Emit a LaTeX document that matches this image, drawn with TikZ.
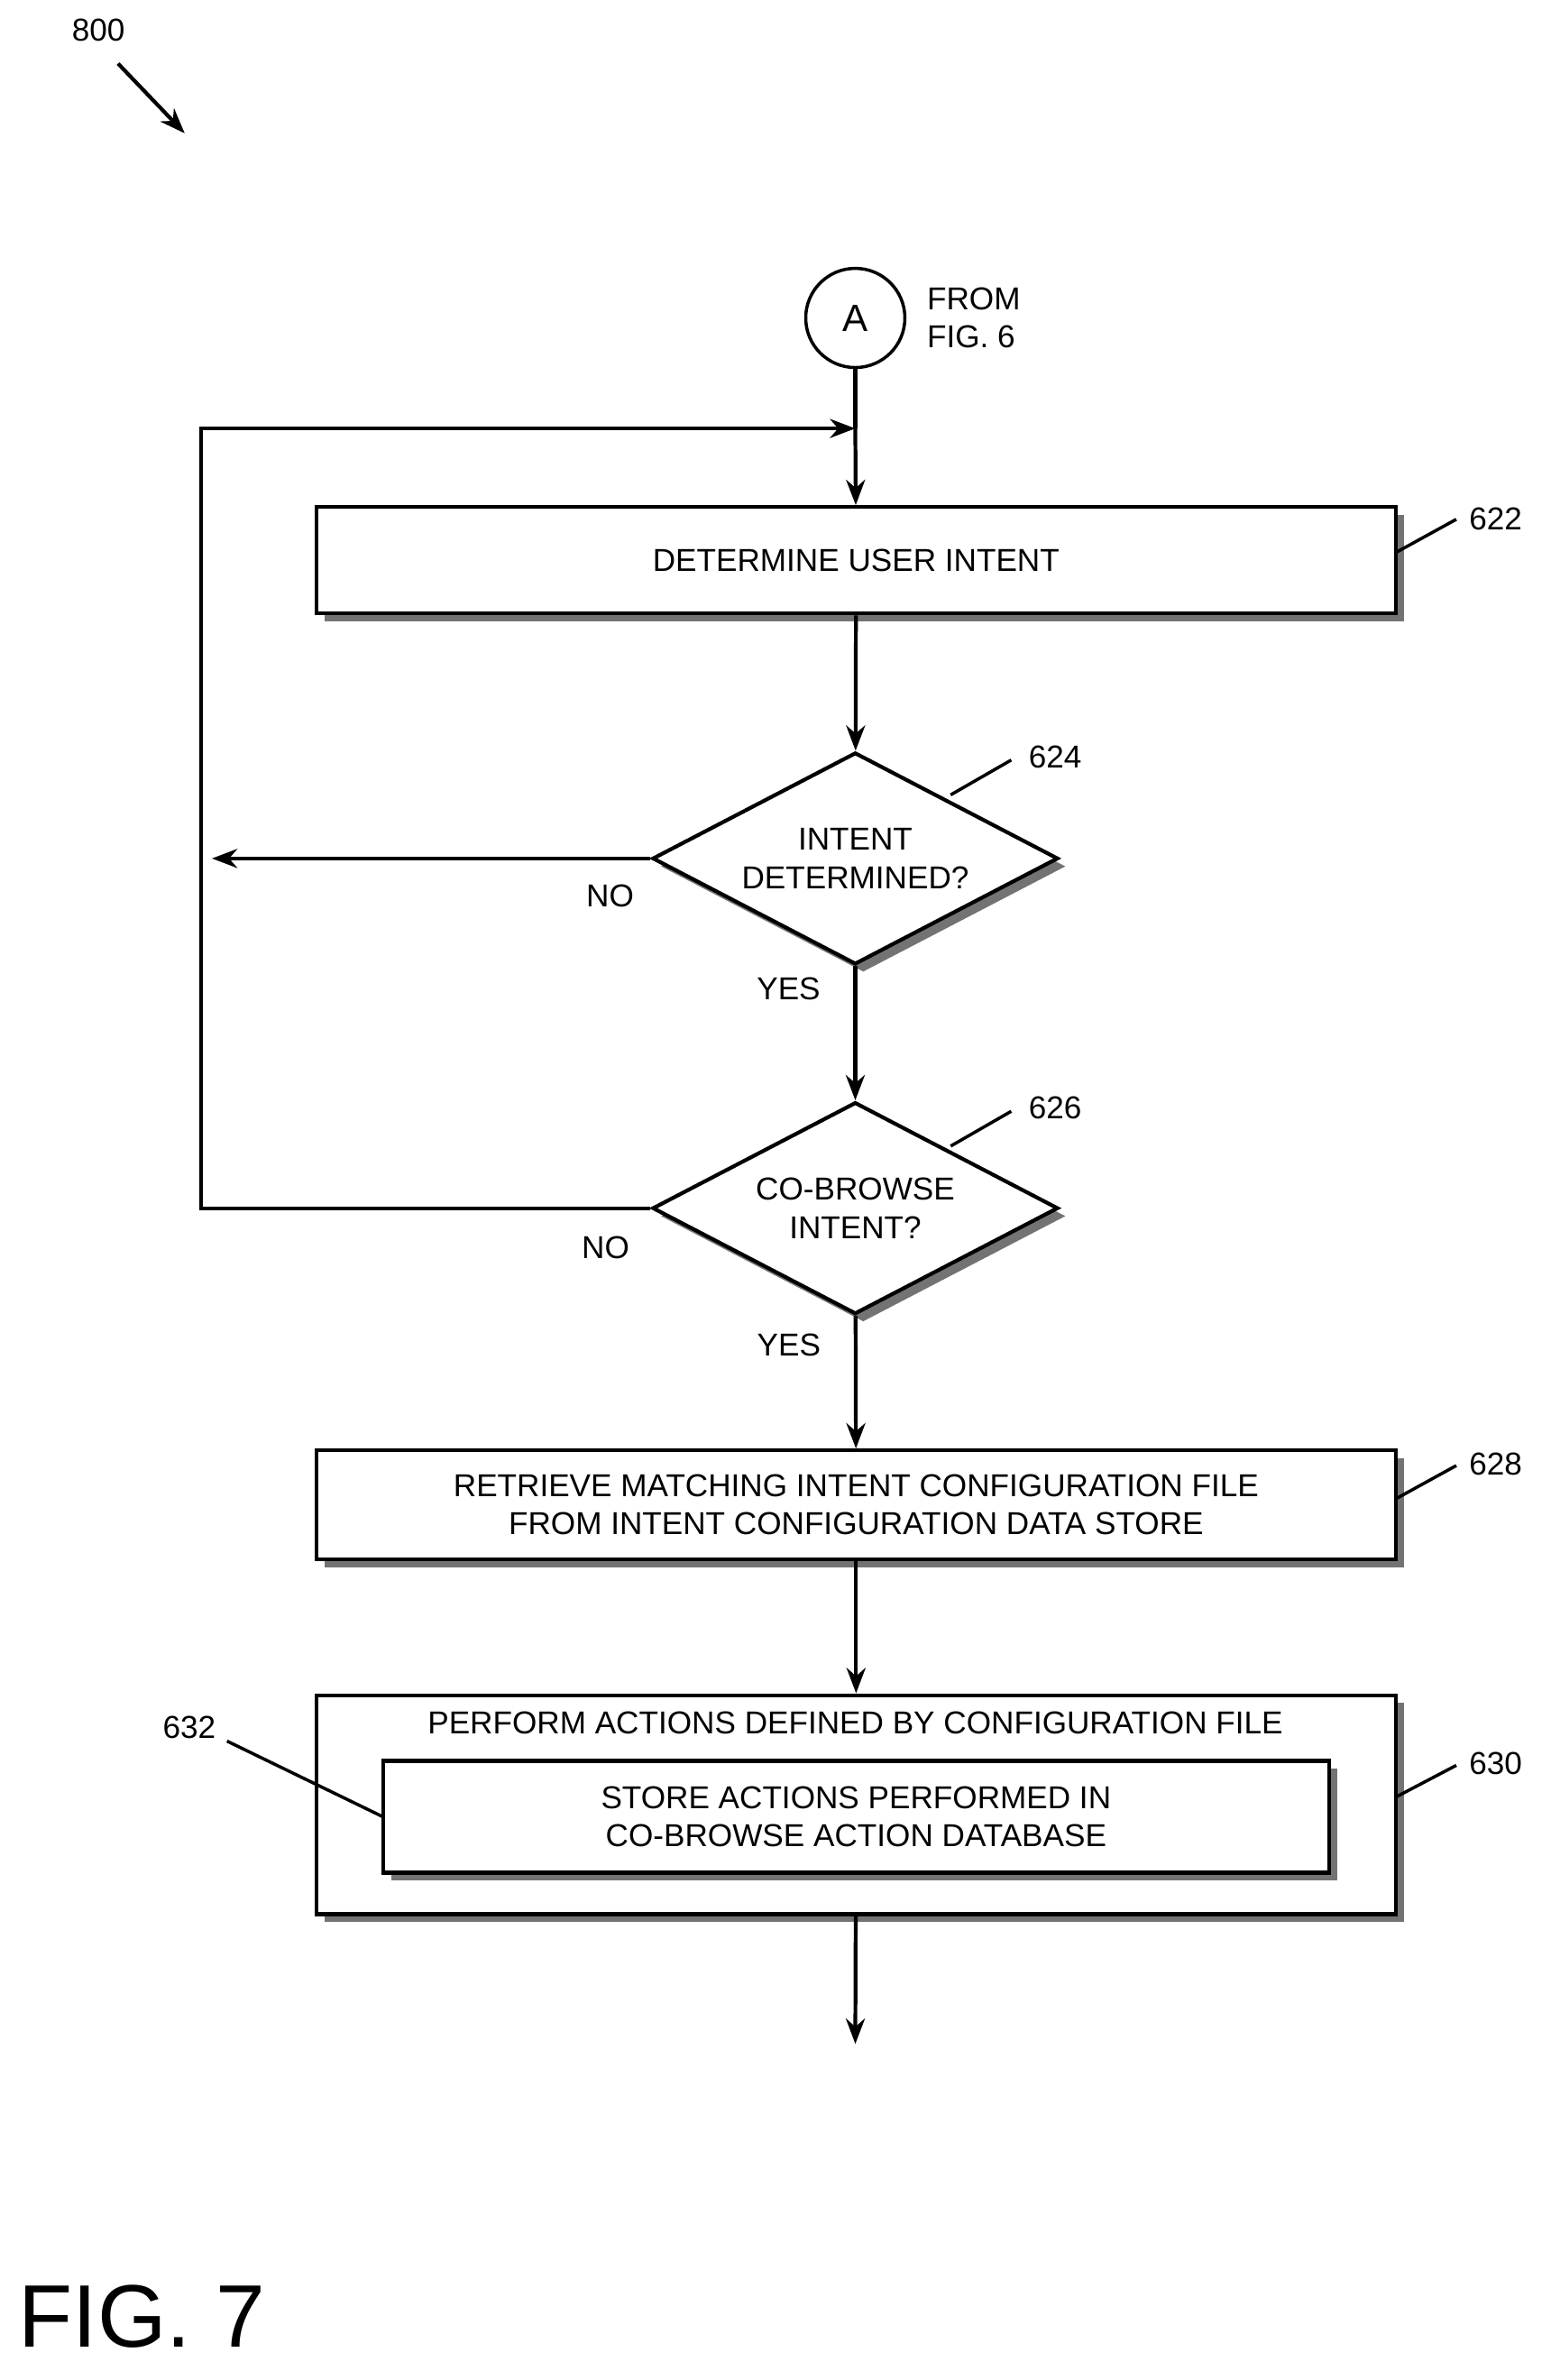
\documentclass[tikz,border=0pt]{standalone}
\usepackage{fontspec}
\setmainfont{Liberation Sans}
\usetikzlibrary{arrows,arrows.meta,shapes.geometric,shadows}
\tikzset{
	stepbox/.style={draw, line width=1.2pt, fill=white, font=\fontsize{10}{12}\selectfont, align=center,
		drop shadow={shadow xshift=2.5pt, shadow yshift=-2.5pt, fill=black!55, opacity=1}},
	decide/.style={diamond, aspect=1.9, draw, line width=1.2pt, fill=white, inner sep=0pt,
		font=\fontsize{10}{12}\selectfont, align=center, minimum width=45mm, minimum height=23.5mm,
		drop shadow={shadow xshift=2.5pt, shadow yshift=-2.5pt, fill=black!55, opacity=1}},
	flow/.style={line width=1.2pt, -{Stealth[length=8pt,width=6pt]}},
	lead/.style={line width=1pt},
	tag/.style={font=\fontsize{10}{12}\selectfont},
}
\begin{document}
\begin{tikzpicture}[x=0.1679mm, y=-0.1679mm]
	\useasboundingbox (0,0) rectangle (1024,1572);
	% reference number
	\node[tag] (n800) at (65,20) {800};
	\draw[flow] (78,42) -- (122,88);
	% connector
	\node[circle, draw, line width=1pt, minimum size=11mm, font=\fontsize{12}{14}\selectfont] (A) at (565,210) {A};
	\node[tag, align=left, anchor=west] (from) at (605,210) {FROM\\FIG. 6};
	\coordinate (join) at (565,283);
	% steps
	\node[stepbox, minimum width=119.7mm, minimum height=11.8mm] (s622) at (565.5,370) {DETERMINE USER INTENT};
	\node[decide] (d624) at (565,567) {INTENT\\DETERMINED?};
	\node[decide] (d626) at (565,798) {CO-BROWSE\\INTENT?};
	\node[stepbox, minimum width=119.7mm, minimum height=12.1mm] (s628) at (565.5,994) {RETRIEVE MATCHING INTENT CONFIGURATION FILE\\FROM INTENT CONFIGURATION DATA STORE};
	\node[stepbox, minimum width=119.7mm, minimum height=24.3mm] (s630) at (565.5,1192) {};
	\node[tag] (t630) at (565,1138) {PERFORM ACTIONS DEFINED BY CONFIGURATION FILE};
	\node[stepbox, minimum width=104.9mm, minimum height=12.4mm] (s632) at (565.5,1200) {STORE ACTIONS PERFORMED IN\\CO-BROWSE ACTION DATABASE};
	% flow
	\draw[line width=1.2pt] (A) -- (join);
	\draw[flow] (join) -- (s622);
	\draw[flow] (s622) -- (d624);
	\draw[flow] (d624) -- node[tag, pos=0.17, left=2.5mm] {YES} (d626);
	\draw[flow] (d626) -- node[tag, pos=0.22, left=2.5mm] {YES} (s628);
	\draw[flow] (s628) -- (s630);
	\coordinate (out) at (565,1350);
	\draw[flow] (s630) -- (out);
	\coordinate (left1) at (140,567);
	\draw[flow] (d624.west) -- (left1);
	\node[tag] at (403,592) {NO};
	\node[tag] at (400,824) {NO};
	\draw[line width=1.2pt] (d626.west) -- (133,798) -- (133,283) -- (540,283);
	\draw[flow] (500,283) -- (join);
	% labels
	\node[tag] (l622) at (988,343) {622};
	\draw[lead] (922,365) -- (962,343);
	\node[tag] (l624) at (697,500) {624};
	\draw[lead] (628,525) -- (668,502);
	\node[tag] (l626) at (697,732) {626};
	\draw[lead] (628,757) -- (668,734);
	\node[tag] (l628) at (988,967) {628};
	\draw[lead] (922,990) -- (962,968);
	\node[tag] (l630) at (988,1165) {630};
	\draw[lead] (922,1187) -- (962,1166);
	\node[tag] (l632) at (125,1141) {632};
	\draw[lead] (150,1150) -- (253,1200);
	% figure title
	\node[font=\fontsize{28}{32}\selectfont, anchor=west] (fig) at (5,1530) {FIG. 7};
\end{tikzpicture}
\end{document}
